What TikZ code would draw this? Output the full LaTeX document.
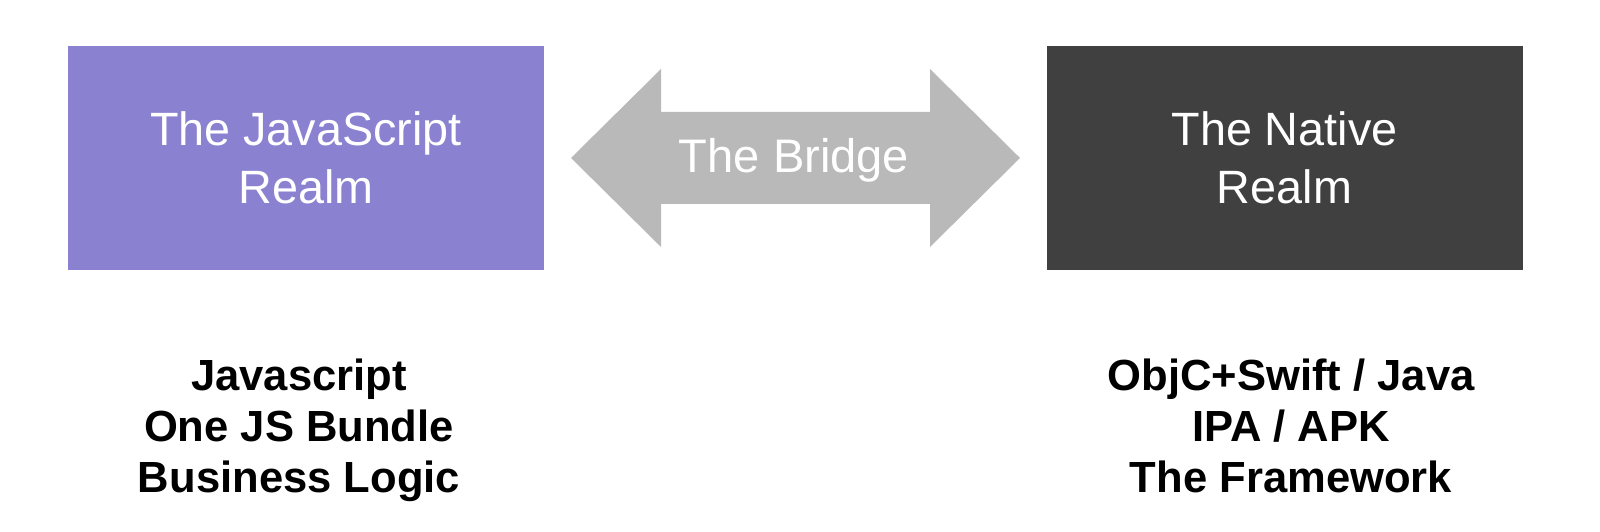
\documentclass[tikz,border=0pt]{standalone}
\usepackage{fontspec}
\setmainfont{Liberation Sans}
\usepackage{tikz}
\usetikzlibrary{positioning}
\definecolor{jspurple}{HTML}{8A81D1}
\definecolor{nativegray}{HTML}{404040}
\definecolor{bridgegray}{HTML}{B9B9B9}

\begin{document}
\begin{tikzpicture}[x=1cm, y=1cm,
  realm/.style={minimum width=4.76cm, minimum height=2.24cm, inner sep=0pt,
    text=white, align=center, font=\fontsize{13.3}{16.5}\selectfont},
  stack/.style={anchor=north, inner sep=0pt, align=center,
    font=\fontsize{12.4}{14.5}\selectfont\bfseries}]
\useasboundingbox (0,0) rectangle (16,5.32);
\node[realm, fill=jspurple] (jsrealm) at (3.06,3.74) {The JavaScript\\Realm};
\node[realm, fill=nativegray] (nativerealm) at (12.845,3.74) {The Native\\Realm};
\fill[bridgegray] (5.71,3.74) -- (6.61,4.63) -- (6.61,4.20) -- (9.30,4.20)
  -- (9.30,4.63) -- (10.20,3.74) -- (9.30,2.85) -- (9.30,3.28)
  -- (6.61,3.28) -- (6.61,2.85) -- cycle;
\node[font=\fontsize{13.4}{16}\selectfont, text=white] (bridge) at (7.94,3.72) {The Bridge};
\node[stack] (jsstack) at (2.99,1.74) {Javascript\\One JS Bundle\\Business Logic};
\node[stack] (nativestack) at (12.91,1.74) {ObjC+Swift / Java\\IPA / APK\\The Framework};
\end{tikzpicture}
\end{document}
